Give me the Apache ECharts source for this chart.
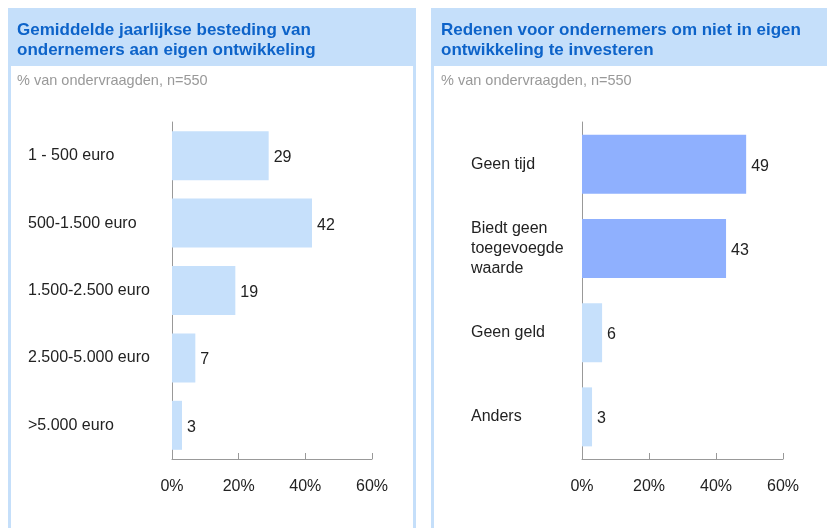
<!DOCTYPE html>
<html>
<head>
<meta charset="utf-8">
<script src="https://cdn.jsdelivr.net/npm/echarts@6/dist/echarts.min.js"></script>
<style>
  html, body { margin: 0; padding: 0; background: #fff; }
  #chart { width: 827px; height: 528px; }
</style>
</head>
<body>
<div id="chart"></div>
<script>
// left panel: yearly spend
const spendCategories = ["1 - 500 euro", "500-1.500 euro", "1.500-2.500 euro", "2.500-5.000 euro", ">5.000 euro"];
const spendValues = [29, 42, 19, 7, 3];

// right panel: reasons not to invest
const reasonCategories = ["Geen tijd", "Biedt geen\ntoegevoegde\nwaarde", "Geen geld", "Anders"];
const reasonValues = [49, 43, 6, 3];
const reasonHighlight = [true, true, false, false];

const axisTicks = [0, 20, 40, 60];

const headerColor = "#c5dffa";
const lightBar = "#c6e0fb";
const darkBar = "#8fb0fe";
const titleColor = "#0d63c9";
const font = "Liberation Sans, Arial, sans-serif";

const chart = echarts.init(document.getElementById("chart"));

function valueAxis(gridIndex) {
  return {
    gridIndex: gridIndex,
    type: "value",
    min: axisTicks[0],
    max: axisTicks[axisTicks.length - 1],
    interval: axisTicks[1] - axisTicks[0],
    axisLine: { show: true, lineStyle: { color: "#999", width: 1 } },
    axisTick: { show: true, inside: true, length: 6, lineStyle: { color: "#999" } },
    splitLine: { show: false },
    axisLabel: {
      formatter: "{value}%",
      fontSize: 16,
      color: "#222",
      fontFamily: font,
      margin: 20,
    },
  };
}

function categoryAxis(gridIndex, data, margin) {
  return {
    gridIndex: gridIndex,
    type: "category",
    data: data,
    inverse: true,
    axisLine: { show: true, lineStyle: { color: "#999", width: 1 } },
    axisTick: { show: false },
    axisLabel: {
      align: "left",
      margin: margin,
      fontSize: 16,
      lineHeight: 20,
      padding: [4, 0, 0, 0],
      color: "#222",
      fontFamily: font,
    },
  };
}

const barLabel = {
  show: true,
  position: "right",
  distance: 5,
  offset: [0, 2],
  fontSize: 16,
  color: "#222",
  fontFamily: font,
};

const option = {
  animation: false,
  backgroundColor: "#fff",
  graphic: [
    // panel frames
    { type: "rect", shape: { x: 9.5, y: 9.5, width: 405, height: 600 }, style: { fill: "#fff", stroke: headerColor, lineWidth: 3 }, z: -10 },
    { type: "rect", shape: { x: 8, y: 8, width: 408, height: 58 }, style: { fill: headerColor }, z: -9 },
    { type: "rect", shape: { x: 432.5, y: 9.5, width: 420, height: 600 }, style: { fill: "#fff", stroke: headerColor, lineWidth: 3 }, z: -10 },
    { type: "rect", shape: { x: 431, y: 8, width: 420, height: 58 }, style: { fill: headerColor }, z: -9 },
  ],
  title: [
    {
      text: "Gemiddelde jaarlijkse besteding van\nondernemers aan eigen ontwikkeling",
      left: 17,
      top: 20,
      padding: 0,
      textStyle: { fontSize: 17, fontWeight: "bold", color: titleColor, lineHeight: 20, fontFamily: font },
    },
    {
      text: "% van ondervraagden, n=550",
      left: 17,
      top: 72,
      padding: 0,
      textStyle: { fontSize: 14.5, fontWeight: "normal", color: "#999", lineHeight: 18, fontFamily: font },
    },
    {
      text: "Redenen voor ondernemers om niet in eigen\nontwikkeling te investeren",
      left: 441,
      top: 20,
      padding: 0,
      textStyle: { fontSize: 17, fontWeight: "bold", color: titleColor, lineHeight: 20, fontFamily: font },
    },
    {
      text: "% van ondervraagden, n=550",
      left: 441,
      top: 72,
      padding: 0,
      textStyle: { fontSize: 14.5, fontWeight: "normal", color: "#999", lineHeight: 18, fontFamily: font },
    },
  ],
  grid: [
    { left: 172, right: 455, top: 122, bottom: 69 },
    { left: 582, right: 44, top: 122, bottom: 69 },
  ],
  xAxis: [valueAxis(0), valueAxis(1)],
  yAxis: [
    categoryAxis(0, spendCategories, 144),
    categoryAxis(1, reasonCategories, 111),
  ],
  series: [
    {
      type: "bar",
      xAxisIndex: 0,
      yAxisIndex: 0,
      data: spendValues,
      barWidth: 49,
      itemStyle: { color: lightBar },
      label: barLabel,
    },
    {
      type: "bar",
      xAxisIndex: 1,
      yAxisIndex: 1,
      data: reasonValues.map((v, i) => ({
        value: v,
        itemStyle: { color: reasonHighlight[i] ? darkBar : lightBar },
      })),
      barWidth: 59,
      label: barLabel,
    },
  ],
};

chart.setOption(option);
</script>
</body>
</html>
